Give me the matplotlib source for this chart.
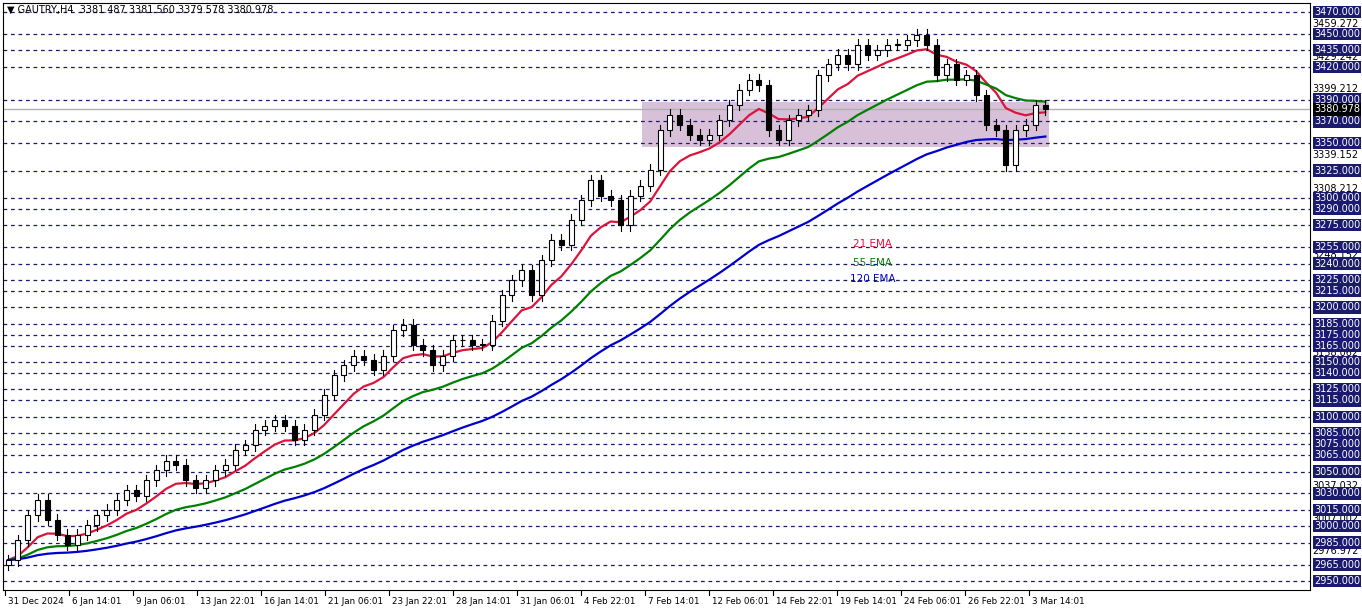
import matplotlib
matplotlib.use("Agg")
import matplotlib.pyplot as plt
import numpy as np
import pandas as pd
from matplotlib.patches import Rectangle

closes = [2969,2987,3010,3024,3006,2992,2983,2992,3001,3010,3015,3024,3033,3028,3042,3051,3060,3056,3042,3035,
          3042,3051,3056,3070,3074,3088,3092,3097,3092,3079,3088,3102,3120,3138,3147,3156,3152,3143,3156,3179,
          3184,3166,3161,3147,3156,3170,3170,3166,3166,3188,3211,3225,3234,3211,3243,3262,3257,3280,3298,3316,
          3302,3298,3275,3302,3311,3326,3362,3376,3367,3358,3353,3358,3371,3385,3399,3408,3403,3362,3353,3371,
          3376,3380,3412,3422,3431,3422,3440,3431,3435,3440,3440,3444,3449,3440,3412,3422,3408,3412,3394,3367,
          3362,3330,3362,3367,3385,3381]
date_labels = ["31 Dec 2024","6 Jan 14:01","9 Jan 06:01","13 Jan 22:01","16 Jan 14:01","21 Jan 06:01",
               "23 Jan 22:01","28 Jan 14:01","31 Jan 06:01","4 Feb 22:01","7 Feb 14:01","12 Feb 06:01",
               "14 Feb 22:01","19 Feb 14:01","24 Feb 06:01","26 Feb 22:01","3 Mar 14:01"]
level_boxes = [3470,3450,3435,3420,3390,3370,3350,3325,3300,3290,3275,3255,3240,3225,3215,3200,3185,3175,
               3165,3150,3140,3125,3115,3100,3085,3075,3065,3050,3030,3015,3000,2985,2965,2950]
plain_levels = [3459.272,3429.242,3399.212,3339.152,3308.212,3248.152,3158.062,3037.032,3007.002,2976.972]
current = 3380.978
zone = (3347, 3388)
ema_spans = {"21 EMA": (8.4, "#dc143c"), "55 EMA": (22, "#008000"), "120 EMA": (48, "#0000cd")}

W, H = 1362, 611
fig = plt.figure(figsize=(W/100, H/100), dpi=100)
ax = fig.add_axes([3/W, (H-590)/H, 1307/W, 587/H])
ax.set_xlim(0, 1307)
ax.set_ylim(2941.7, 3478.2)
for s in ax.spines.values():
    s.set_color("black")
ax.set_xticks([]); ax.set_yticks([])

for lv in level_boxes:
    ax.axhline(lv, color="#1a1a6e", lw=0.9, ls=(0, (3, 3)), zorder=1)
ax.axhline(current, color="#b0b0b0", lw=1, zorder=1)

n = len(closes)
xs = np.arange(n) * 9.88 + 5
ax.add_patch(Rectangle((xs[65]-8, zone[0]), xs[-1]+4-(xs[65]-8), zone[1]-zone[0],
                       facecolor="#d8c0d8", edgecolor="none", zorder=0.5))

s = pd.Series(closes, dtype=float)
for name, (span, col) in ema_spans.items():
    e = s.ewm(span=span, adjust=False).mean()
    ax.plot(xs, e, color=col, lw=1.6, zorder=3)

opens = [closes[0]-4] + closes[:-1]
for x, o, c in zip(xs, opens, closes):
    hi = max(o, c) + 5; lo = min(o, c) - 5
    ax.plot([x, x], [lo, hi], color="black", lw=0.8, zorder=4)
    bot, h = min(o, c), max(abs(c-o), 0.6)
    ax.add_patch(Rectangle((x-2.5, bot), 5, h, facecolor="white" if c >= o else "black",
                           edgecolor="black", lw=0.8, zorder=5))

ax.text(850, 3255, "21 EMA", color="#dc143c", fontsize=7.5, zorder=6)
ax.text(850, 3238, "55 EMA", color="#008000", fontsize=7.5, zorder=6)
ax.text(847, 3223, "120 EMA", color="#0000cd", fontsize=7.5, zorder=6)

tr = ax.get_yaxis_transform()
for lv in plain_levels:
    ax.text(1.002, lv, f"{lv:.3f}", transform=tr, fontsize=7, va="center", ha="left", clip_on=False)
for lv in level_boxes:
    ax.text(1.003, lv, f"{lv:.3f}", transform=tr, fontsize=7, va="center", ha="left", color="white",
            clip_on=False, bbox=dict(boxstyle="square,pad=0.12", fc="#1a1a6e", ec="none"))
ax.text(1.003, current, f"{current:.3f}", transform=tr, fontsize=7, va="center", ha="left", color="white",
        clip_on=False, bbox=dict(boxstyle="square,pad=0.12", fc="black", ec="none"))

for i, lab in enumerate(date_labels):
    px = 2 + i * 64
    ax.text(px + 3, -0.012, lab, transform=ax.get_xaxis_transform(), fontsize=6.3, va="top", ha="left", clip_on=False)
    ax.plot([px, px], [0, -0.008], transform=ax.get_xaxis_transform(), color="black", lw=0.8, clip_on=False)

ax.text(0.003, 0.997, "▼ GAUTRY,H4  3381.487 3381.560 3379.578 3380.978", transform=ax.transAxes,
        fontsize=7, va="top", ha="left")
fig.savefig("out.png", dpi=100)
